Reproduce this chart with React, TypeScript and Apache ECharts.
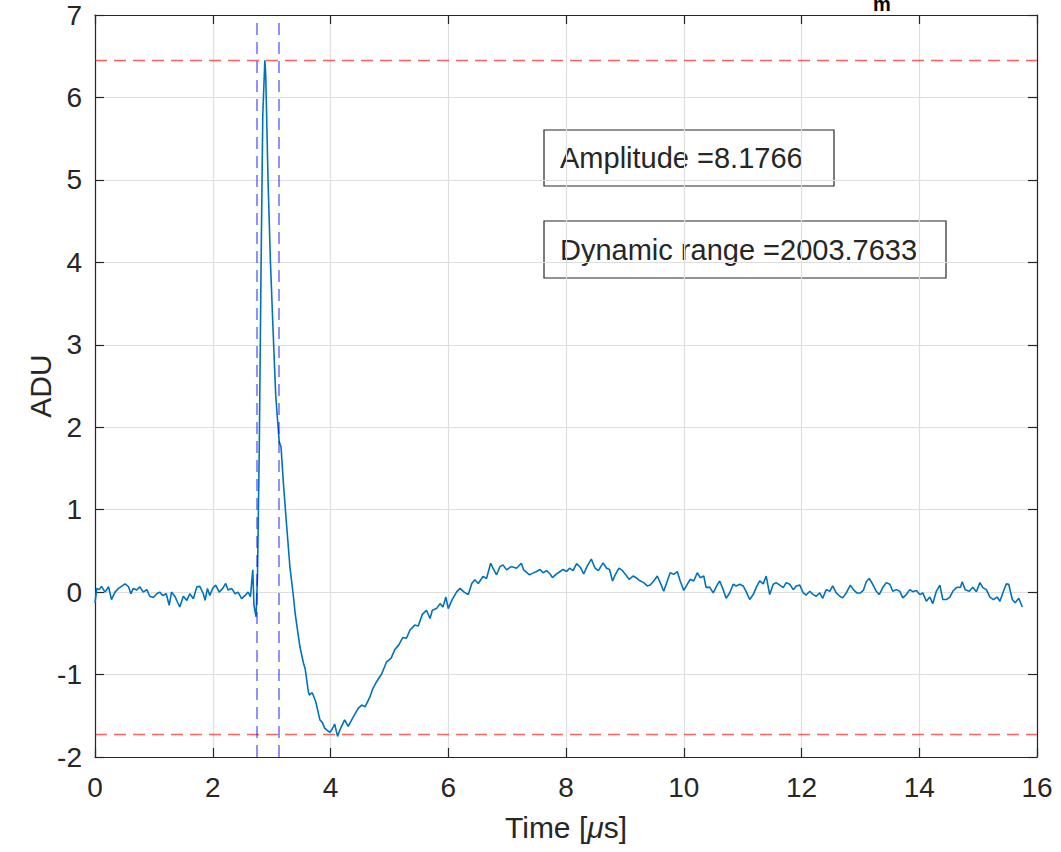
import React, { useEffect, useRef } from "react";
import * as echarts from "echarts";

// ---- data (time in µs, amplitude in ADU) ----
const baselineSegment: [number, number][] = [
  [0, -0.13], [0.03, 0.045], [0.07, 0.03], [0.11, 0.07], [0.17, 0.0], [0.23, 0.065], [0.28, -0.09],
  [0.34, 0.0], [0.4, 0.045], [0.45, 0.07], [0.51, 0.1], [0.57, 0.065], [0.61, -0.02], [0.65, 0.045],
  [0.71, 0.025], [0.76, 0.065], [0.82, 0.0], [0.88, 0.03], [0.93, -0.05], [0.99, -0.065], [1.05, -0.02],
  [1.1, 0.0], [1.15, -0.04], [1.21, -0.02], [1.26, -0.16], [1.3, 0.0], [1.36, -0.055], [1.4, -0.12],
  [1.44, -0.18], [1.5, -0.05], [1.56, -0.1], [1.61, -0.02], [1.67, -0.08], [1.73, 0.065], [1.78, 0.07],
  [1.84, -0.02], [1.87, -0.1], [1.91, 0.045], [1.95, -0.04], [2.0, 0.045], [2.05, 0.085], [2.11, 0.0],
  [2.17, 0.045], [2.22, 0.105], [2.26, 0.025], [2.32, 0.045], [2.38, -0.02], [2.43, 0.0], [2.49, -0.08],
  [2.55, -0.04], [2.6, 0.0], [2.64, -0.055], [2.68, 0.27], [2.7, -0.16], [2.735, -0.3],
];

const pulseSegment: [number, number][] = [
  [2.76, 0.2], [2.79, 1.73], [2.82, 3.9], [2.85, 5.8], [2.885, 6.45], [2.9, 6.27], [2.94, 4.97],
  [2.98, 4.0], [3.03, 3.08], [3.07, 2.38], [3.11, 2.0], [3.13, 1.82], [3.16, 1.76], [3.2, 1.32],
  [3.25, 0.85], [3.31, 0.31], [3.37, -0.05], [3.4, -0.26], [3.48, -0.66], [3.54, -0.86], [3.57, -0.93],
  [3.62, -1.19], [3.64, -1.25], [3.69, -1.22], [3.75, -1.33], [3.82, -1.55], [3.86, -1.58], [3.9, -1.65],
  [3.95, -1.68], [3.99, -1.7], [4.03, -1.66], [4.07, -1.6], [4.12, -1.75], [4.16, -1.67],
];

const recoverySegment: [number, number][] = [
  [4.24, -1.55], [4.3, -1.63], [4.39, -1.51], [4.47, -1.41], [4.53, -1.37], [4.59, -1.39], [4.67, -1.27],
  [4.72, -1.17], [4.78, -1.09], [4.87, -0.99], [4.95, -0.85], [5.03, -0.8], [5.09, -0.7], [5.16, -0.64],
  [5.23, -0.55], [5.29, -0.56], [5.35, -0.46], [5.43, -0.4], [5.49, -0.41], [5.56, -0.27], [5.63, -0.22],
  [5.69, -0.32], [5.73, -0.22], [5.8, -0.2], [5.86, -0.14], [5.91, -0.18], [5.96, -0.06], [6.0, -0.2],
  [6.06, -0.1], [6.14, 0.0], [6.2, 0.045], [6.27, 0.0], [6.34, -0.03], [6.4, 0.105], [6.45, 0.15],
  [6.51, 0.105], [6.59, 0.19], [6.65, 0.165], [6.72, 0.35], [6.76, 0.29], [6.82, 0.21], [6.88, 0.31],
  [6.93, 0.33], [6.99, 0.27], [7.07, 0.31], [7.16, 0.29], [7.24, 0.35], [7.28, 0.27], [7.38, 0.21],
  [7.44, 0.23], [7.5, 0.25],
];

const tailSegment: [number, number][] = [
  [7.56, 0.275], [7.61, 0.235], [7.67, 0.26], [7.73, 0.22], [7.77, 0.175], [7.83, 0.215], [7.9, 0.25],
  [7.95, 0.275], [8.01, 0.25], [8.06, 0.29], [8.12, 0.26], [8.18, 0.345], [8.25, 0.295], [8.3, 0.22],
  [8.36, 0.315], [8.43, 0.4], [8.49, 0.295], [8.55, 0.26], [8.63, 0.355], [8.69, 0.29], [8.74, 0.275],
  [8.79, 0.135], [8.84, 0.215], [8.9, 0.29], [8.96, 0.26], [9.01, 0.215], [9.07, 0.155], [9.14, 0.195],
  [9.19, 0.175], [9.25, 0.14], [9.32, 0.115], [9.38, 0.075], [9.43, 0.085], [9.49, 0.135], [9.55, 0.195],
  [9.6, 0.115], [9.66, 0.01], [9.72, 0.135], [9.77, 0.235], [9.83, 0.215], [9.89, 0.25], [9.94, 0.135],
  [10.0, 0.02], [10.06, 0.095], [10.11, 0.155], [10.17, 0.135], [10.23, 0.235], [10.28, 0.175],
  [10.34, 0.195], [10.38, 0.055], [10.44, 0.06], [10.5, -0.01], [10.56, 0.075], [10.61, 0.135],
  [10.67, 0.03], [10.72, -0.075], [10.78, -0.01], [10.84, 0.095], [10.89, 0.075], [10.95, 0.095],
  [11.01, 0.075], [11.06, 0.005], [11.12, -0.09], [11.18, -0.03], [11.23, 0.055], [11.29, 0.135],
  [11.35, 0.1], [11.4, 0.195], [11.46, -0.03], [11.52, 0.095], [11.57, 0.115], [11.63, 0.085],
  [11.69, 0.055], [11.74, 0.115], [11.8, 0.095], [11.86, 0.03], [11.91, 0.075], [11.97, 0.085],
  [12.03, -0.01], [12.08, -0.035], [12.14, 0.01], [12.2, -0.03], [12.25, -0.05], [12.31, -0.01],
  [12.36, -0.075], [12.42, 0.03], [12.48, 0.01], [12.53, 0.075], [12.59, -0.01], [12.65, -0.05],
  [12.7, -0.07], [12.76, -0.01], [12.83, 0.085], [12.88, 0.03], [12.94, -0.01], [13.0, -0.01],
  [13.05, 0.02], [13.1, 0.125], [13.15, 0.165], [13.21, 0.095], [13.27, 0.01], [13.32, -0.03],
  [13.38, 0.055], [13.44, 0.115], [13.5, 0.095], [13.55, 0.01], [13.61, 0.03], [13.67, 0.01],
  [13.72, -0.07], [13.78, -0.03], [13.84, 0.03], [13.89, 0.005], [13.95, 0.02], [14.01, -0.03],
  [14.06, -0.01], [14.12, -0.11], [14.18, -0.06], [14.23, -0.14], [14.29, 0.01], [14.35, 0.085],
  [14.4, -0.09], [14.46, -0.09], [14.52, -0.06], [14.57, 0.01], [14.63, 0.055], [14.7, 0.06],
  [14.73, 0.125], [14.78, 0.03], [14.85, 0.01], [14.91, 0.06], [14.97, 0.005], [15.03, 0.115],
  [15.08, 0.055], [15.14, 0.03], [15.2, -0.06], [15.26, -0.09], [15.32, -0.06], [15.37, -0.11],
  [15.43, 0.01], [15.48, 0.1], [15.52, 0.095], [15.58, -0.09], [15.63, -0.13], [15.69, -0.075],
  [15.75, -0.18],
];

const peakLevel = 6.45;
const troughLevel = -1.73;
const markerTimes = [2.75, 3.12];
const amplitudeLabel = "Amplitude =8.1766";
const rangeLabel = "Dynamic range =2003.7633";
const xName = "Time [";
const xUnit = "\u03bc";
const xNameEnd = "s]";
const yName = "ADU";
const titleFragment = "m";

const FONT = "'Liberation Sans', Arial, Helvetica, sans-serif";
const DARK = "#262626";
const GRID = "#dedede";

export default function App() {
  const ref = useRef<HTMLDivElement>(null);

  useEffect(() => {
    if (!ref.current) return;
    const chart = echarts.init(ref.current, undefined, { renderer: "svg" });

    const trace = [...baselineSegment, ...pulseSegment, ...recoverySegment, ...tailSegment];

    const tickCommon = {
      axisLine: { show: true, onZero: false, lineStyle: { color: DARK, width: 1.2 } },
      axisTick: { show: true, inside: true, length: 9, lineStyle: { color: DARK, width: 1.2 } },
    };

    const redLine = { color: "rgba(255,0,0,0.62)", width: 1.4, type: [12, 7] as any };
    const blueLine = { color: "rgba(0,0,255,0.58)", width: 1.5, type: [12, 7] as any };

    chart.setOption({
      animation: false,
      backgroundColor: "#ffffff",
      textStyle: { fontFamily: FONT },
      grid: { left: 95, top: 15, right: 24, bottom: 95, containLabel: false },
      xAxis: [
        {
          type: "value",
          min: 0,
          max: 16,
          interval: 2,
          position: "bottom",
          ...tickCommon,
          axisLabel: { show: true, color: DARK, fontSize: 28, margin: 16, fontFamily: FONT },
          splitLine: { show: true, lineStyle: { color: GRID, width: 1.2 } },
        },
        {
          type: "value",
          min: 0,
          max: 16,
          interval: 2,
          position: "top",
          ...tickCommon,
          axisLabel: { show: false },
          splitLine: { show: false },
        },
      ],
      yAxis: [
        {
          type: "value",
          min: -2,
          max: 7,
          interval: 1,
          position: "left",
          ...tickCommon,
          axisLabel: { show: true, color: DARK, fontSize: 28, margin: 13, fontFamily: FONT },
          splitLine: { show: true, lineStyle: { color: GRID, width: 1.2 } },
        },
        {
          type: "value",
          min: -2,
          max: 7,
          interval: 1,
          position: "right",
          ...tickCommon,
          axisLabel: { show: false },
          splitLine: { show: false },
        },
      ],
      series: [
        {
          type: "line",
          xAxisIndex: 0,
          yAxisIndex: 0,
          data: trace,
          showSymbol: false,
          symbol: "none",
          lineStyle: { color: "#0072BD", width: 1.6 },
          z: 3,
          markLine: {
            silent: true,
            symbol: ["none", "none"],
            label: { show: false },
            data: [
              { yAxis: peakLevel, lineStyle: redLine },
              { yAxis: troughLevel, lineStyle: redLine },
              ...markerTimes.map((t) => ({ xAxis: t, lineStyle: blueLine })),
            ],
          },
        },
      ],
      graphic: [
        {
          type: "text",
          x: 566,
          y: 812,
          style: {
            text: `${xName}{i|${xUnit}}${xNameEnd}`,
            fill: DARK,
            fontSize: 30,
            fontFamily: FONT,
            align: "center",
            verticalAlign: "top",
            rich: { i: { fontStyle: "italic", fontSize: 30, fontFamily: FONT, fill: DARK } },
          },
        },
        {
          type: "text",
          x: 40,
          y: 386,
          rotation: Math.PI / 2,
          style: {
            text: yName,
            fill: DARK,
            fontSize: 30,
            fontFamily: FONT,
            align: "center",
            verticalAlign: "middle",
          },
        },
        {
          type: "rect",
          shape: { x: 544, y: 130, width: 290, height: 56 },
          style: { fill: "none", stroke: DARK, lineWidth: 1.2 },
        },
        {
          type: "text",
          x: 560,
          y: 158,
          style: {
            text: amplitudeLabel,
            fill: DARK,
            fontSize: 29,
            fontFamily: FONT,
            align: "left",
            verticalAlign: "middle",
          },
        },
        {
          type: "rect",
          shape: { x: 544, y: 221, width: 402, height: 57 },
          style: { fill: "none", stroke: DARK, lineWidth: 1.2 },
        },
        {
          type: "text",
          x: 560,
          y: 250,
          style: {
            text: rangeLabel,
            fill: DARK,
            fontSize: 29,
            fontFamily: FONT,
            align: "left",
            verticalAlign: "middle",
          },
        },
        {
          type: "text",
          x: 882,
          y: 14,
          style: {
            text: titleFragment,
            fill: "#000000",
            fontSize: 20,
            fontWeight: "bold",
            fontFamily: FONT,
            align: "center",
            verticalAlign: "bottom",
          },
        },
      ],
    });

    return () => chart.dispose();
  }, []);

  return (
    <div
      ref={ref}
      style={{ position: "fixed", left: 0, top: 0, width: 1061, height: 852, background: "#fff" }}
    />
  );
}
